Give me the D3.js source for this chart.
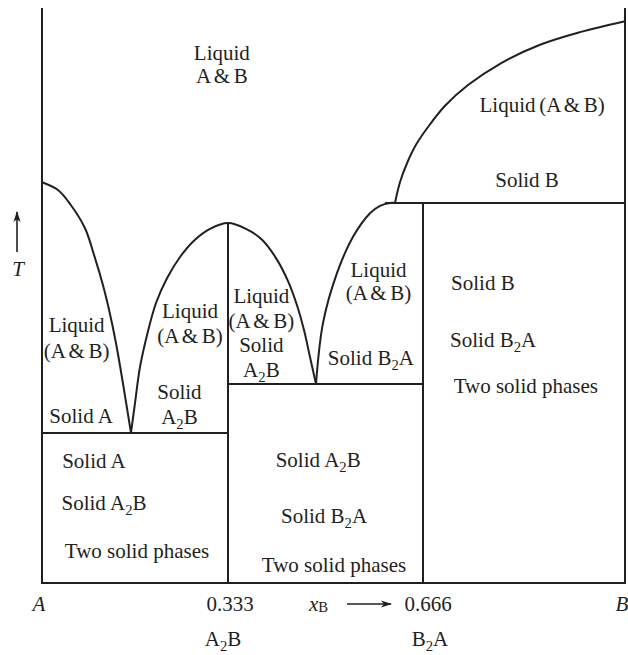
<!DOCTYPE html>
<html><head><meta charset="utf-8">
<script src="https://cdn.jsdelivr.net/npm/d3@7"></script>
<style>
body{margin:0;background:#fff}
text{font-family:"Liberation Serif","Times New Roman",serif;fill:#231f20}
</style>
</head><body>
<svg id="chart" width="628" height="655"></svg>
<script>
// ---------- data ----------
const compositions = [0, 0.333, 0.666, 1];
const tickLabels = ["A", "0.333", "0.666", "B"];
const compoundLabels = ["", "A_2B", "B_2A", ""];
const tDomain = [0, 100];
const eutectic1T = 26.1;
const eutectic2T = 34.6;
const peritecticT = 66.1;
const meltA2B = 62.6;
const liquidusA = [[0,69.7],[0.0286,68.35],[0.0519,65.7],[0.077,61.7],[0.0949,56.5],[0.1092,51.8],[0.1182,48.3],[0.1325,41.7],[0.1593,26.1]];
const liquidusA2B = [[0.1593,26.1],[0.1665,31.3],[0.1755,37.6],[0.188,43.1],[0.2041,48.7],[0.2238,53.0],[0.2471,56.7],[0.2739,59.7],[0.3008,61.6],[0.333,62.6],
                     [0.3637,61.6],[0.3911,59.7],[0.415,56.5],[0.4355,52.5],[0.4508,48.3],[0.4628,44.0],[0.473,39.3],[0.4833,34.6]];
const liquidusB2A = [[0.4833,34.6],[0.4952,45.2],[0.5191,53.9],[0.5465,60.2],[0.5755,64.3],[0.5926,65.6],[0.6097,66.1],[0.6199,66.1]];
const liquidusB = [[0.6182,66.1],[0.6267,69.7],[0.6387,73.0],[0.654,76.2],[0.6743,79.3],[0.7024,83.0],[0.7404,86.6],[0.7933,90.3],[0.8595,93.6],[0.9256,95.8],[1,97.7]];
const peritecticStart = 0.601;

// region annotations: [composition, temperatures per line, text lines]
const regionLabels = [
  [0.322, [91.0, 87.0], ["Liquid", "A & B"]],
  [0.062, [43.7, 39.1], ["Liquid", "(A & B)"]],
  [0.070, [27.8], ["Solid A"]],
  [0.265, [46.1, 41.7], ["Liquid", "(A & B)"]],
  [0.246, [32.0, 27.7], ["Solid", "A_2B"]],
  [0.390, [48.7, 44.3, 40.2, 35.8], ["Liquid", "(A & B)", "Solid", "A_2B"]],
  [0.590, [53.2, 49.2], ["Liquid", "(A & B)"]],
  [0.577, [37.9], ["Solid B_2A"]],
  [0.863, [81.9], ["Liquid (A & B)"]],
  [0.838, [68.9], ["Solid B"]],
  [0.765, [51.0], ["Solid B"]],
  [0.782, [41.0], ["Solid B_2A"]],
  [0.836, [33.0], ["Two solid phases"]],
  [0.093, [20.0], ["Solid A"]],
  [0.111, [12.7], ["Solid A_2B"]],
  [0.170, [4.35], ["Two solid phases"]],
  [0.487, [20.2], ["Solid A_2B"]],
  [0.497, [10.4], ["Solid B_2A"]],
  [0.514, [1.9], ["Two solid phases"]]
];

// ---------- layout ----------
const svg = d3.select("#chart");
const x = d3.scaleLinear().domain(compositions).range([42, 228, 423, 625]);
const y = d3.scaleLinear().domain(tDomain).range([583, 8]);
const ink = "#231f20";
const FONT = "Liberation Serif, Times New Roman, serif";
const FS = 21;

svg.append("defs").append("marker")
  .attr("id","arr").attr("viewBox","0 0 12 10").attr("refX",11).attr("refY",5)
  .attr("markerWidth",12).attr("markerHeight",9).attr("markerUnits","userSpaceOnUse")
  .attr("orient","auto")
  .append("path").attr("d","M0,1 L12,5 L0,9 L3,5 Z").attr("fill",ink);

const line = d3.line().x(d => x(d[0])).y(d => y(d[1]));
const curve = d3.line().x(d => x(d[0])).y(d => y(d[1])).curve(d3.curveCatmullRom.alpha(0.5));
const g = svg.append("g").attr("fill","none").attr("stroke",ink).attr("stroke-width",2);

// frame
g.append("path").attr("d", line([[0,tDomain[1]],[0,0],[1,0],[1,tDomain[1]]]));
// horizontal invariant lines
g.append("path").attr("d", line([[0,eutectic1T],[compositions[1],eutectic1T]]));
g.append("path").attr("d", line([[compositions[1],eutectic2T],[compositions[2],eutectic2T]]));
g.append("path").attr("d", line([[peritecticStart,peritecticT],[1,peritecticT]]));
// compound verticals
g.append("path").attr("d", line([[compositions[1],0],[compositions[1],meltA2B]]));
g.append("path").attr("d", line([[compositions[2],0],[compositions[2],peritecticT]]));
// liquidus curves
[liquidusA, liquidusA2B, liquidusB2A, liquidusB].forEach(c => g.append("path").attr("d", curve(c)));

function addText(sel, str, px, py, anchor, italic) {
  const t = sel.append("text").attr("x",px).attr("y",py)
    .attr("text-anchor",anchor||"middle").attr("font-size",FS)
    .attr("font-family",FONT).attr("fill",ink);
  if (italic) t.attr("font-style","italic");
  if (str.includes("&")) t.attr("word-spacing", -1.6);
  let shift = 0;
  str.split(/(_\d)/).forEach(part => {
    if (!part) return;
    if (part[0] === "_") {
      t.append("tspan").attr("font-size",FS*0.7).attr("dy",5).text(part.slice(1));
      shift = -5;
    } else {
      const ts = t.append("tspan").text(part);
      if (shift) { ts.attr("dy", shift); shift = 0; }
    }
  });
  return t;
}

// region labels
regionLabels.forEach(([cx, ts, lines]) => {
  lines.forEach((s, i) => addText(svg, s, x(cx), y(ts[i])));
});

// axis tick labels
const tickOffsets = [-3, 2, 5, -3];
compositions.forEach((c, i) => {
  addText(svg, tickLabels[i], x(c) + tickOffsets[i], 611, "middle", i === 0 || i === 3);
  if (compoundLabels[i]) addText(svg, compoundLabels[i], x(c) + (i===1?-5:7), 646);
});

// x_B label and arrow
const xb = svg.append("text").attr("x",309).attr("y",611).attr("font-size",FS)
  .attr("font-family",FONT).attr("fill",ink);
xb.append("tspan").attr("font-style","italic").text("x");
xb.append("tspan").attr("font-size",FS*0.7).attr("dy",1).text("B");
svg.append("line").attr("x1",347).attr("x2",391).attr("y1",604).attr("y2",604)
  .attr("stroke",ink).attr("stroke-width",1.6).attr("marker-end","url(#arr)");

// T label and arrow
svg.append("line").attr("x1",17).attr("x2",17).attr("y1",252).attr("y2",212)
  .attr("stroke",ink).attr("stroke-width",1.6).attr("marker-end","url(#arr)");
svg.append("text").attr("x",18).attr("y",276).attr("text-anchor","middle")
  .attr("font-size",FS).attr("font-family",FONT).attr("fill",ink)
  .attr("font-style","italic").text("T");
</script>
</body></html>
